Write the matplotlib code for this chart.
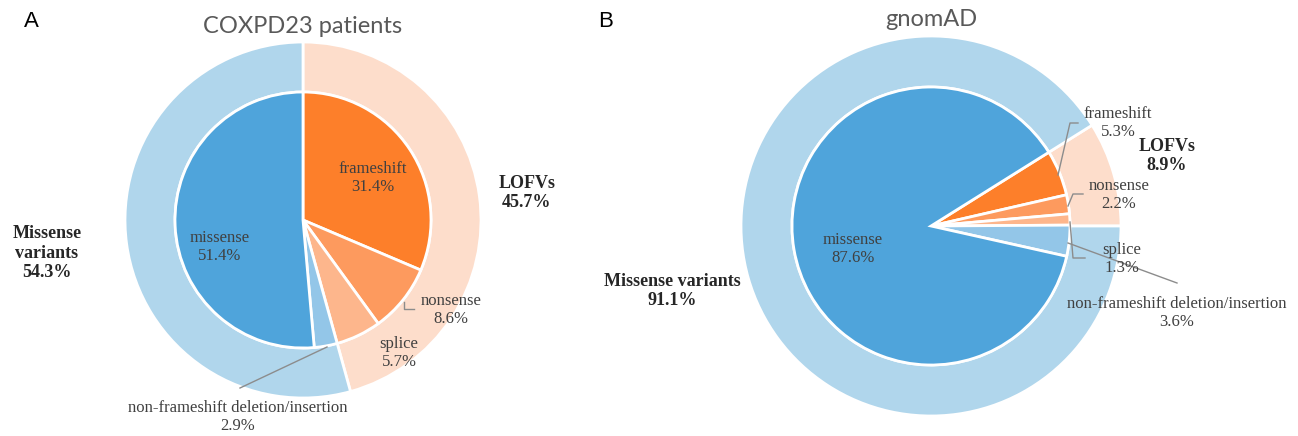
import matplotlib.pyplot as plt

W, H = 1298, 436

# ---------- DATA ----------
outer_names = ["LOFVs", "Missense variants"]
coxpd_outer = [45.7, 54.3]
gnomad_outer = [8.9, 91.1]

inner_names = ["frameshift", "nonsense", "splice",
               "non-frameshift deletion/insertion", "missense"]
coxpd_inner = [31.4, 8.6, 5.7, 2.9, 51.4]
gnomad_inner = [5.3, 2.2, 1.3, 3.6, 87.6]

# ---------- STYLE ----------
outer_colors = ["#FDDDCB", "#B0D6EC"]
inner_colors = ["#FD7F2A", "#FD9A5E", "#FDB68C", "#93C6E8", "#4FA4DB"]
txt_col = "#404040"
serif = "Liberation Serif"


def Y(y):
    # image pixel row -> axes y
    return H - y


def draw_donut(ax, cx, cy, R, r, outer, inner, start):
    ax.pie(outer, colors=outer_colors, radius=R, center=(cx, Y(cy)),
           startangle=start, counterclock=False, frame=True,
           wedgeprops=dict(width=R - r, edgecolor="white", linewidth=2))
    ax.pie(inner, colors=inner_colors, radius=r, center=(cx, Y(cy)),
           startangle=start, counterclock=False, frame=True,
           wedgeprops=dict(edgecolor="white", linewidth=2))


def label(ax, x, y, s, bold=False):
    ax.text(x, Y(y), s, ha="center", va="center", family=serif,
            fontsize=13 if bold else 12, color="#262626" if bold else txt_col,
            fontweight="bold" if bold else "normal", linespacing=1.2)


def leader(ax, pts):
    ax.plot([p[0] for p in pts], [Y(p[1]) for p in pts],
            color="#8c8c8c", lw=1)


fig = plt.figure(figsize=(W / 100, H / 100), dpi=100)
ax = fig.add_axes([0, 0, 1, 1])

# ---------- PANEL A ----------
draw_donut(ax, 303, 220, 178, 128, coxpd_outer, coxpd_inner, 90)

a_pos = [(373, 178), (451, 310), (399, 353), (238, 417), (220, 247)]
for (x, y), n, v in zip(a_pos, inner_names, coxpd_inner):
    label(ax, x, y, f"{n}\n{v}%")
leader(ax, [(404, 302), (404, 309), (414, 309)])
leader(ax, [(240, 388), (327, 347)])

label(ax, 527, 193, f"{outer_names[0]}\n{coxpd_outer[0]}%", bold=True)
label(ax, 47, 253, "Missense\nvariants\n" + f"{coxpd_outer[1]}%", bold=True)

ax.text(303, Y(27), "COXPD23 patients", ha="center", va="center",
        family="Lato", fontsize=17, color="#595959")
ax.text(31, Y(22), "A", ha="center", va="center",
        family="Liberation Sans", fontsize=16, color="black")

# ---------- PANEL B ----------
gstart = gnomad_outer[0] * 3.6
draw_donut(ax, 931, 226, 190, 139, gnomad_outer, gnomad_inner, gstart)

b_pos = [(1118, 123), (1119, 195), (1122, 259), (1177, 313), (853, 249)]
for (x, y), n, v in zip(b_pos, inner_names, gnomad_inner):
    label(ax, x, y, f"{n}\n{v}%")
leader(ax, [(1058, 175), (1070, 123), (1078, 123)])
leader(ax, [(1068, 206), (1073, 194), (1083, 194)])
leader(ax, [(1070, 222), (1073, 258), (1085, 258)])
leader(ax, [(1068, 243), (1177, 283)])

label(ax, 1167, 156, f"{outer_names[0]}\n{gnomad_outer[0]}%", bold=True)
label(ax, 672, 291, f"{outer_names[1]}\n{gnomad_outer[1]}%", bold=True)

ax.text(931, Y(20), "gnomAD", ha="center", va="center",
        family="Lato", fontsize=17, color="#595959")
ax.text(606, Y(22), "B", ha="center", va="center",
        family="Liberation Sans", fontsize=16, color="black")

ax.set_xlim(0, W)
ax.set_ylim(0, H)
ax.set_aspect("equal")
ax.axis("off")

fig.savefig("out.png", dpi=100)
